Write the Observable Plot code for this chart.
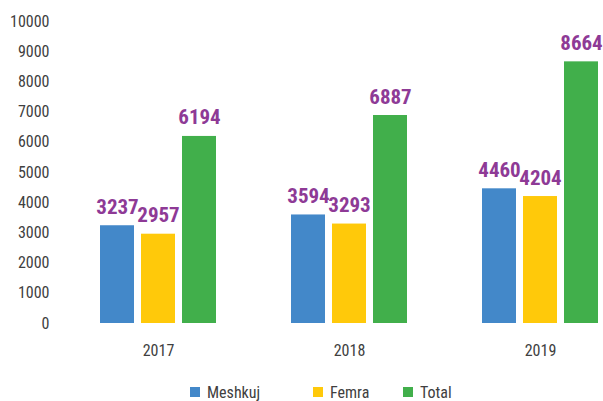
<!DOCTYPE html>
<html>
<head>
<meta charset="utf-8">
<script src="https://cdn.jsdelivr.net/npm/d3@7"></script>
<script src="https://cdn.jsdelivr.net/npm/@observablehq/plot@0.6"></script>
<style>
  html, body { margin: 0; padding: 0; background: #fff; }
  #wrap { position: relative; width: 603px; height: 401px; font-family: "Liberation Sans Narrow", "Roboto Condensed", "DejaVu Sans Condensed", sans-serif; }
  #legend { position: absolute; left: 0; top: 380px; width: 603px; height: 21px; }
  .item { position: absolute; top: 0; display: flex; align-items: center; font-size: 16px; color: #404040; height: 24px; }
  .sw { width: 10px; height: 10px; margin-right: 7px; display: inline-block; }
</style>
</head>
<body>
<div id="wrap"><div id="chart"></div><div id="legend"></div></div>
<script>
const years = ["2017", "2018", "2019"];
const series = ["Meshkuj", "Femra", "Total"];
const meshkuj = [3237, 3594, 4460];
const femra = [2957, 3293, 4204];
const total = [6194, 6887, 8664];
const yTicks = [0, 1000, 2000, 3000, 4000, 5000, 6000, 7000, 8000, 9000, 10000];
const colors = ["#4388c9", "#ffc90a", "#41af4b"];
const labelColor = "#8e3a96";

const valuesBySeries = [meshkuj, femra, total];
const rows = years.flatMap((yr, i) => series.map((s, j) => ({year: yr, series: s, value: valuesBySeries[j][i]})));

const chart = Plot.plot({
  width: 603,
  height: 365,
  marginLeft: 60,
  marginRight: 0,
  marginTop: 21,
  marginBottom: 42,
  style: {fontFamily: '"Liberation Sans Narrow", "Roboto Condensed", "DejaVu Sans Condensed", sans-serif', fontSize: "16px", color: "#404040", background: "transparent"},
  facet: {data: rows, x: "year", label: null},
  fx: {domain: years, paddingInner: 0.384, paddingOuter: 0.11, align: 0.905, tickSize: 0, tickPadding: 21, label: null},
  x: {domain: series, paddingInner: 0.16, paddingOuter: 0, axis: null},
  y: {domain: [0, 10000], ticks: yTicks, tickSize: 0, tickPadding: 50, label: null, tickFormat: d => String(d)},
  color: {domain: series, range: colors},
  marks: [
    Plot.barY(rows, {x: "series", y: "value", fill: "series"}),
    Plot.text(rows, {x: "series", y: "value", text: d => String(d.value), fill: labelColor, fontWeight: "bold", fontSize: 21, lineAnchor: "bottom", dy: -12})
  ]
});
document.getElementById("chart").appendChild(chart);

const legendX = [190, 313, 403];
const legend = document.getElementById("legend");
series.forEach((s, i) => {
  const it = document.createElement("div");
  it.className = "item";
  it.style.left = legendX[i] + "px";
  it.innerHTML = `<span class="sw" style="background:${colors[i]}"></span><span>${s}</span>`;
  legend.appendChild(it);
});
</script>
</body>
</html>
